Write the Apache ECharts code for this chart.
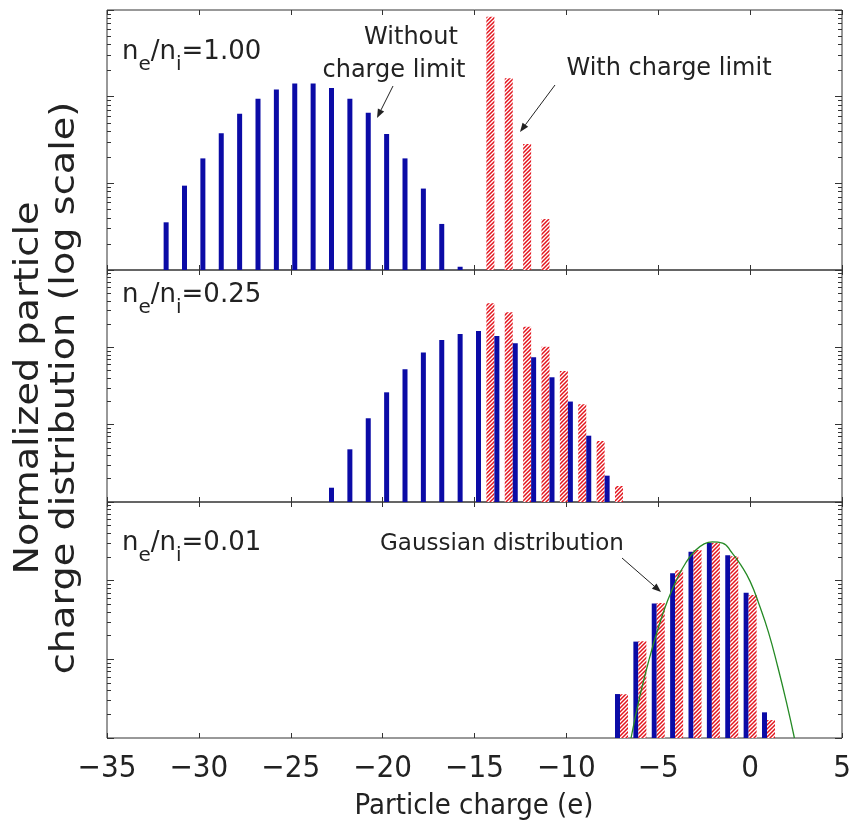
<!DOCTYPE html>
<html><head><meta charset="utf-8">
<script src="https://cdn.jsdelivr.net/npm/echarts@6/dist/echarts.min.js"></script>
<style>html,body{margin:0;padding:0;background:#fff}#c{width:854px;height:840px}</style>
</head><body><div id="c"></div>
<script>
// ---- data ----
const xTickValues = [-35, -30, -25, -20, -15, -10, -5, 0, 5];

// panel 1 : ne/ni = 1.00
const p1WithoutCharge = [-32,-31,-30,-29,-28,-27,-26,-25,-24,-23,-22,-21,-20,-19,-18,-17,-16];
const p1WithoutValue  = [0.00355,0.0094,0.0194,0.0378,0.0635,0.0946,0.121,0.142,0.142,0.126,0.0946,0.0652,0.037,0.0194,0.0087,0.0034,0.00109];
const p1WithCharge = [-14,-13,-12,-11];
const p1WithValue  = [0.836,0.163,0.0284,0.00387];

// panel 2 : ne/ni = 0.25
const p2WithoutCharge = [-23,-22,-21,-20,-19,-18,-17,-16,-15,-14,-13,-12,-11,-10,-9,-8];
const p2WithoutValue  = [0.00153,0.0048,0.0121,0.0262,0.0521,0.0855,0.124,0.149,0.163,0.140,0.113,0.0745,0.041,0.0199,0.0072,0.00219];
const p2WithCharge = [-14,-13,-12,-11,-10,-9,-8,-7];
const p2WithValue  = [0.371,0.284,0.185,0.102,0.0495,0.0184,0.00615,0.00161];

// panel 3 : ne/ni = 0.01
const p3WithoutCharge = [-7,-6,-5,-4,-3,-2,-1,0,1];
const p3WithoutValue  = [0.00362,0.0168,0.0514,0.124,0.233,0.303,0.211,0.0702,0.00212];
const p3WithCharge = [-7,-6,-5,-4,-3,-2,-1,0,1];
const p3WithValue  = [0.0036,0.017,0.052,0.136,0.245,0.303,0.205,0.0656,0.00169];
// Gaussian curve, points
const gaussCharge = [-6.48,-6.0,-5.5,-5.0,-4.5,-4.0,-3.5,-3.0,-2.5,-2.05,-1.5,-1.0,-0.5,0.0,0.5,1.0,1.5,2.0,2.41];
const gaussValue  = [0.001,0.0034,0.0099,0.025,0.055,0.103,0.169,0.24,0.294,0.312,0.301,0.228,0.158,0.098,0.049,0.022,0.0081,0.0027,0.001];

const ratioLabels = ['1.00', '0.25', '0.01'];

// ---- helpers ----
function zip(a, b) { return a.map((v, i) => [v, b[i]]); }

function hatchCanvas() {
  const s = 4, c = document.createElement('canvas');
  c.width = s; c.height = s;
  const g = c.getContext('2d');
  g.fillStyle = '#ffffff'; g.fillRect(0, 0, s, s);
  g.strokeStyle = '#e3141d'; g.lineWidth = 1.5;
  g.beginPath();
  g.moveTo(-1, 1); g.lineTo(1, -1);
  g.moveTo(0, s); g.lineTo(s, 0);
  g.moveTo(s - 1, s + 1); g.lineTo(s + 1, s - 1);
  g.stroke();
  return c;
}
const hatch = { image: hatchCanvas(), repeat: 'repeat' };
const BLUE = '#0b0ba6';
const NARROW = 'Liberation Sans Narrow, DejaVu Sans Condensed, sans-serif';

const minorVals = [];
[0.001, 0.01, 0.1].forEach(d => { for (let k = 2; k <= 9; k++) minorVals.push(+(d * k).toPrecision(3)); });

const grids = [
  { left: 107, right: 12, top: 10, height: 260 },
  { left: 107, right: 12, top: 270, height: 232 },
  { left: 107, right: 12, top: 502, height: 236 }
].map(g => Object.assign(g, { show: true, borderColor: '#333', borderWidth: 1, containLabel: false }));

const xAxes = [], yAxes = [];
for (let i = 0; i < 3; i++) {
  ['bottom', 'top'].forEach(pos => {
    xAxes.push({
      gridIndex: i, type: 'value', min: -35, max: 5, interval: 5, position: pos,
      axisLine: { show: false, onZero: false }, splitLine: { show: false },
      axisTick: { show: true, inside: true, length: 5, lineStyle: { color: '#333', width: 1 } },
      axisLabel: {
        show: (i === 2 && pos === 'bottom'), margin: 15,
        fontFamily: NARROW, fontSize: 31, color: '#222',
        customValues: xTickValues,
        formatter: v => String(v).replace('-', '\u2212')
      }
    });
  });
  ['left', 'right'].forEach(pos => {
    yAxes.push({
      gridIndex: i, type: 'log', logBase: 10, min: 0.001, max: 1, startValue: 0.001, position: pos,
      axisLine: { show: false, onZero: false }, splitLine: { show: false }, axisLabel: { show: false },
      axisTick: { show: true, inside: true, length: 7, lineStyle: { color: '#333' } }
    });
    yAxes.push({
      gridIndex: i, type: 'log', logBase: 10, min: 0.001, max: 1, startValue: 0.001, position: pos,
      axisLine: { show: false, onZero: false }, splitLine: { show: false }, axisLabel: { show: false },
      axisTick: { show: true, inside: true, length: 4, customValues: minorVals, lineStyle: { color: '#333' } }
    });
  });
}

function barSeries(grid, kind, charges, values) {
  const blue = kind === 'without';
  return {
    type: 'bar', xAxisIndex: grid * 2, yAxisIndex: grid * 4,
    name: blue ? 'Without charge limit' : 'With charge limit',
    data: zip(charges, values),
    barWidth: blue ? 5 : 8, barGap: '0%',
    itemStyle: { color: blue ? BLUE : hatch },
    emphasis: { disabled: true }, animation: false
  };
}

const series = [
  barSeries(0, 'with', p1WithCharge, p1WithValue),
  barSeries(0, 'without', p1WithoutCharge, p1WithoutValue),
  barSeries(1, 'with', p2WithCharge, p2WithValue),
  barSeries(1, 'without', p2WithoutCharge, p2WithoutValue),
  barSeries(2, 'without', p3WithoutCharge, p3WithoutValue),
  barSeries(2, 'with', p3WithCharge, p3WithValue),
  {
    type: 'line', name: 'Gaussian distribution', xAxisIndex: 4, yAxisIndex: 8,
    data: zip(gaussCharge, gaussValue), smooth: true, showSymbol: false,
    lineStyle: { color: '#258a25', width: 1.3 }, z: 5, animation: false
  }
];

// ---- annotations ----
const ANN = 'DejaVu Sans, sans-serif';
function ratioText(x, y, val) {
  return {
    type: 'text', x, y,
    style: {
      text: '{a|n}{b|e}{a|/n}{b|i}{a|=' + val + '}',
      rich: {
        a: { fontFamily: ANN, fontSize: 26, fill: '#222', lineHeight: 30 },
        b: { fontFamily: ANN, fontSize: 20, fill: '#222', lineHeight: 20, padding: [26, 0, 0, 0] }
      }, textVerticalAlign: 'middle'
    }
  };
}
function txt(x, y, s, size) {
  return { type: 'text', x, y, style: { text: s, fontFamily: ANN, fontSize: size || 24, fill: '#222', textAlign: 'center', textVerticalAlign: 'middle' } };
}
function arrow(x1, y1, x2, y2) {
  const a = Math.atan2(y2 - y1, x2 - x1), L = 9, W = 3.5;
  const bx = x2 - L * Math.cos(a), by = y2 - L * Math.sin(a);
  return [
    { type: 'line', shape: { x1, y1, x2: bx, y2: by }, style: { stroke: '#222', lineWidth: 1 } },
    { type: 'polygon', shape: { points: [[x2, y2], [bx + W * Math.sin(a), by - W * Math.cos(a)], [bx - W * Math.sin(a), by + W * Math.cos(a)]] }, style: { fill: '#222' } }
  ];
}

const graphic = [
  ratioText(122, 52, ratioLabels[0]),
  ratioText(122, 295, ratioLabels[1]),
  ratioText(122, 543, ratioLabels[2]),
  txt(411, 38, 'Without'),
  txt(394, 71, 'charge limit'),
  txt(669, 69, 'With charge limit'),
  txt(502, 544, 'Gaussian distribution', 23),
  ...arrow(393, 86, 377, 118),
  ...arrow(555, 85, 520, 132),
  ...arrow(622, 558, 661, 592),
  { type: 'text', x: 474, y: 806, style: { text: 'Particle charge (e)', fontFamily: NARROW, fontSize: 29, fill: '#222', textAlign: 'center', textVerticalAlign: 'middle' } },
  { type: 'text', x: 47, y: 388, rotation: Math.PI / 2, scaleX: 1.25, style: { text: 'Normalized particle\ncharge distribution (log scale)', fontFamily: NARROW, fontSize: 34, lineHeight: 36, fill: '#222', textAlign: 'center', textVerticalAlign: 'middle' } }
];

const chart = echarts.init(document.getElementById('c'), null, { renderer: 'canvas' });
chart.setOption({
  animation: false, backgroundColor: '#fff',
  grid: grids, xAxis: xAxes, yAxis: yAxes, series, graphic
});
</script></body></html>
